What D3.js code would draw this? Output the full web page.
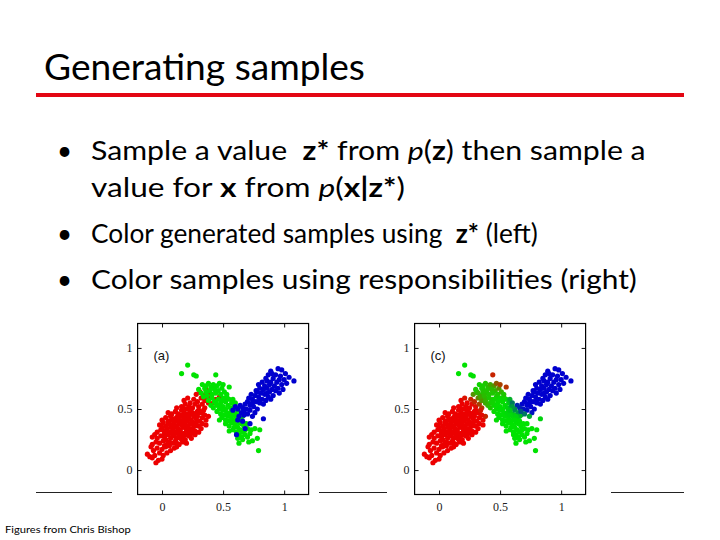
<!DOCTYPE html>
<html>
<head>
<meta charset="utf-8">
<script src="https://cdn.jsdelivr.net/npm/d3@7/dist/d3.min.js"></script>
<style>
  html, body { margin: 0; padding: 0; background: #fff; }
  svg { display: block; }
  text { white-space: pre; }
</style>
</head>
<body>
<svg id="slide" width="720" height="540"></svg>
<script>
// ---------------- DATA ----------------
const titleText = "Generating samples";
const footnoteText = "Figures from Chris Bishop";
// bullet lines: segments [text, style]  (n = normal, b = bold, i = italic)
const bulletLines = [
  [["Sample a value  ", "n"], ["z*", "b"], [" from ", "n"], ["p", "i"], ["(", "n"], ["z", "b"], [") then sample a", "n"]],
  [["value for ", "n"], ["x", "b"], [" from ", "n"], ["p", "i"], ["(", "n"], ["x", "b"], ["|", "b"], ["z*", "b"], [")", "n"]],
  [["Color generated samples using  ", "n"], ["z*", "b"], [" (left)", "n"]],
  [["Color samples using responsibilities (right)", "n"]]
];
const bulletFlags = [true, false, true, true];
const panelLabels = ["(a)", "(c)"];
const xTicks = [0, 0.5, 1];
const yTicks = [0, 0.5, 1];
const xDomain = [-0.2, 1.2];
const yDomain = [-0.2, 1.2];

// samples, colored by generating component z*
const redPts = [
  [-0.05,0.06],[-0.03,0.08],[-0.08,0.10],[0.00,0.09],
  [-0.12,0.13],[-0.10,0.11],[-0.06,0.12],[0.01,0.12],[-0.02,0.14],[0.04,0.14],
  [-0.07,0.16],[-0.04,0.18],[0.00,0.17],[0.03,0.19],[0.07,0.16],[0.10,0.18],[-0.09,0.19],[0.12,0.19],
  [-0.08,0.21],[-0.05,0.23],[-0.02,0.22],[0.01,0.24],[0.04,0.21],[0.06,0.23],[0.09,0.22],[0.11,0.24],[0.14,0.21],[0.17,0.23],[0.20,0.22],[0.02,0.20],
  [-0.08,0.27],[-0.04,0.26],[-0.01,0.28],[0.02,0.27],[0.05,0.29],[0.07,0.26],[0.10,0.28],[0.12,0.26],[0.15,0.29],[0.17,0.27],[0.19,0.25],[0.22,0.28],[0.24,0.26],[0.27,0.29],[0.03,0.25],[0.13,0.30],[0.08,0.30],
  [-0.04,0.31],[-0.01,0.33],[0.02,0.32],[0.04,0.34],[0.06,0.31],[0.09,0.33],[0.11,0.31],[0.13,0.34],[0.15,0.32],[0.18,0.30],[0.20,0.33],[0.22,0.31],[0.25,0.34],[0.27,0.32],[0.30,0.31],[0.32,0.34],[0.07,0.35],[0.17,0.35],[0.24,0.30],[0.00,0.35],
  [-0.02,0.37],[0.01,0.39],[0.03,0.36],[0.05,0.38],[0.08,0.37],[0.10,0.39],[0.12,0.36],[0.14,0.38],[0.16,0.37],[0.19,0.39],[0.21,0.36],[0.23,0.38],[0.26,0.37],[0.28,0.39],[0.30,0.36],[0.33,0.38],[0.36,0.37],[0.18,0.355],[0.11,0.40],
  [0.00,0.41],[0.03,0.43],[0.05,0.40],[0.07,0.44],[0.09,0.42],[0.12,0.43],[0.14,0.41],[0.16,0.44],[0.18,0.42],[0.20,0.40],[0.22,0.43],[0.24,0.41],[0.26,0.44],[0.28,0.42],[0.31,0.40],[0.33,0.43],[0.36,0.41],[0.38,0.44],[0.15,0.45],
  [0.05,0.47],[0.08,0.46],[0.11,0.48],[0.13,0.46],[0.16,0.49],[0.18,0.47],[0.21,0.46],[0.23,0.49],[0.25,0.47],[0.28,0.46],[0.30,0.49],[0.33,0.47],[0.35,0.45],[0.20,0.50],
  [0.12,0.51],[0.16,0.52],[0.19,0.54],[0.22,0.52],[0.25,0.51],[0.27,0.54],[0.30,0.52],[0.33,0.54],[0.35,0.51],
  [0.18,0.57],[0.21,0.59],[0.26,0.58],[0.29,0.56],[0.32,0.59],[0.35,0.57],[0.38,0.55],
  [0.28,0.62],[0.31,0.64],[0.34,0.61],[0.36,0.66],[0.39,0.63],[0.41,0.68],
  [0.44,0.58],[0.47,0.60],[0.50,0.57],[0.53,0.59],[0.42,0.55],[0.38,0.59],
  [0.04,0.33],[0.10,0.35],[0.14,0.33],[0.19,0.36],[0.23,0.34],[0.27,0.36],[0.06,0.40],[0.11,0.42],[0.17,0.40],[0.21,0.42],
  [0.25,0.39],[0.29,0.44],[0.09,0.28],[0.14,0.27],[0.20,0.29],[0.26,0.31],[0.13,0.44],[0.19,0.45],[0.24,0.46],[0.29,0.48],
  [0.17,0.51],[0.23,0.55],[0.31,0.47],[0.34,0.49],[0.08,0.41],[0.02,0.30],[-0.06,0.29],[0.16,0.25],[0.12,0.22],[0.06,0.20]
];
const greenPts = [
  [0.21,0.86],[0.16,0.79],[0.26,0.78],[0.28,0.77],[0.44,0.78],[0.55,0.68],[0.79,0.16],
  [0.30,0.66],[0.33,0.70],[0.35,0.67],[0.38,0.71],[0.40,0.68],[0.42,0.70],[0.45,0.69],[0.47,0.71],[0.32,0.63],[0.36,0.64],
  [0.39,0.65],[0.43,0.66],[0.46,0.65],[0.49,0.67],[0.34,0.60],[0.37,0.61],[0.41,0.62],[0.44,0.63],[0.48,0.62],[0.51,0.64],
  [0.38,0.57],[0.41,0.59],[0.43,0.56],[0.46,0.58],[0.48,0.55],[0.50,0.59],[0.52,0.56],[0.55,0.58],[0.57,0.55],[0.40,0.53],
  [0.42,0.51],[0.45,0.53],[0.47,0.50],[0.50,0.52],[0.52,0.50],[0.54,0.53],[0.56,0.51],[0.59,0.52],[0.44,0.55],[0.49,0.57],[0.53,0.60],
  [0.45,0.48],[0.48,0.46],[0.50,0.49],[0.53,0.47],[0.55,0.45],[0.57,0.48],[0.60,0.46],[0.62,0.49],[0.49,0.43],[0.52,0.41],
  [0.54,0.44],[0.57,0.42],[0.59,0.40],[0.61,0.43],[0.64,0.41],[0.66,0.44],[0.47,0.41],[0.51,0.45],[0.56,0.47],[0.63,0.45],[0.58,0.45],
  [0.52,0.38],[0.55,0.36],[0.57,0.39],[0.60,0.37],[0.62,0.35],[0.65,0.38],[0.67,0.36],[0.70,0.34],[0.58,0.33],[0.61,0.31],
  [0.64,0.33],[0.66,0.31],[0.69,0.38],[0.73,0.33],[0.76,0.34],[0.80,0.33],[0.55,0.32],[0.63,0.39],[0.68,0.33],
  [0.63,0.29],[0.65,0.27],[0.68,0.29],[0.71,0.23],[0.74,0.24],[0.78,0.26],[0.63,0.22],[0.70,0.27],[0.66,0.25],
  [0.36,0.69],[0.50,0.70],[0.53,0.62],[0.58,0.58],[0.60,0.55],[0.47,0.53],[0.55,0.40],[0.59,0.35],[0.72,0.30],[0.62,0.26]
];
const bluePts = [
  [0.89,0.81],[0.95,0.83],[0.98,0.82],[1.04,0.76],[1.08,0.73],[1.00,0.74],[0.93,0.78],[0.97,0.77],[0.91,0.75],[0.87,0.78],
  [0.86,0.73],[0.89,0.72],[0.94,0.72],[0.98,0.70],[1.02,0.71],[0.92,0.69],[0.95,0.67],[0.90,0.66],[0.96,0.63],[0.99,0.66],
  [0.79,0.70],[0.82,0.72],[0.84,0.69],[0.80,0.67],[0.83,0.66],[0.86,0.67],[0.88,0.64],[0.81,0.63],[0.84,0.62],[0.87,0.60],
  [0.78,0.64],[0.76,0.61],[0.79,0.60],[0.82,0.58],[0.85,0.57],[0.74,0.58],[0.77,0.56],[0.80,0.55],[0.73,0.62],[0.91,0.61],[0.89,0.58],[0.83,0.54],
  [0.70,0.56],[0.72,0.53],[0.75,0.52],[0.68,0.54],[0.66,0.51],[0.69,0.50],[0.72,0.49],[0.64,0.53],[0.62,0.50],[0.65,0.47],
  [0.60,0.52],[0.67,0.45],[0.63,0.44],[0.70,0.46],[0.76,0.47],[0.78,0.50],[0.74,0.44],[0.58,0.49],
  [0.83,0.42],[0.61,0.29],[0.68,0.34],[0.66,0.40],[0.72,0.38],[0.62,0.41],
  [0.85,0.75],[0.88,0.70],[0.93,0.65],[0.86,0.63],[0.80,0.58],[0.77,0.65],[0.71,0.59],[0.74,0.55],[0.67,0.48],[0.90,0.79],[1.01,0.79],[0.96,0.74]
];

// mixture model used for the responsibilities panel
const mixWeights = [0.45, 0.33, 0.22];
const mixMeans = [[0.17, 0.37], [0.52, 0.48], [0.82, 0.62]];
const mixCovs = [
  [[0.0124, 0.0080], [0.0080, 0.0108]],
  [[0.0108, -0.0073], [-0.0073, 0.0082]],
  [[0.0110, 0.0057], [0.0057, 0.0050]]
];
const compRGB = [[236, 0, 0], [0, 226, 0], [0, 0, 206]];

// ---------------- DRAW ----------------
const svg = d3.select("#slide");
svg.append("rect").attr("width", 720).attr("height", 540).attr("fill", "#fff");

function fitText(sel, targetW) {
  const w = sel.node().getComputedTextLength();
  return targetW / w;
}

// title
const title = svg.append("text")
  .attr("font-family", "Lato, 'Open Sans', sans-serif")
  .attr("font-size", 36).attr("fill", "#000")
  .text(titleText);
const ts = fitText(title, 321);
title.attr("transform", `translate(44,80) scale(${ts},1)`);

svg.append("rect").attr("x", 36).attr("y", 93).attr("width", 648).attr("height", 4).attr("fill", "#e30613");

// bullets
const lineY = [160, 197, 243, 289];
const lineW = [555, 314, 447, 546];
bulletLines.forEach((segs, i) => {
  if (bulletFlags[i]) {
    svg.append("text").attr("x", 57).attr("y", lineY[i])
      .attr("font-family", "Lato, sans-serif").attr("font-size", 26).attr("fill", "#000")
      .text("\u2022");
  }
  const t = svg.append("text")
    .attr("font-family", "Lato, sans-serif").attr("font-size", 26).attr("fill", "#000");
  segs.forEach(([s, st]) => {
    t.append("tspan")
      .attr("font-weight", st === "b" ? "bold" : "normal")
      .attr("font-style", st === "i" ? "italic" : "normal")
      .text(s);
  });
  const sc = fitText(t, lineW[i]);
  t.attr("transform", `translate(91,${lineY[i]}) scale(${sc},1)`);
});

// thin horizontal rule behind the figures
svg.append("line").attr("x1", 36).attr("x2", 684).attr("y1", 492.5).attr("y2", 492.5)
  .attr("stroke", "#222").attr("stroke-width", 1);

// responsibilities
function gauss(p, m, c) {
  const dx = p[0] - m[0], dy = p[1] - m[1];
  const det = c[0][0] * c[1][1] - c[0][1] * c[1][0];
  const i00 = c[1][1] / det, i11 = c[0][0] / det, i01 = -c[0][1] / det;
  const q = dx * dx * i00 + 2 * dx * dy * i01 + dy * dy * i11;
  return Math.exp(-0.5 * q) / (2 * Math.PI * Math.sqrt(det));
}
function respColor(p) {
  const l = mixWeights.map((w, k) => w * gauss(p, mixMeans[k], mixCovs[k]));
  const s = d3.sum(l) || 1;
  const r = l.map(v => v / s);
  const c = [0, 1, 2].map(ch => Math.round(d3.sum(r.map((rk, k) => rk * compRGB[k][ch]))));
  return `rgb(${c[0]},${c[1]},${c[2]})`;
}

const samples = [
  ...redPts.map(p => ({ p, k: 0 })),
  ...greenPts.map(p => ({ p, k: 1 })),
  ...bluePts.map(p => ({ p, k: 2 }))
];
const labelColor = k => `rgb(${compRGB[k].join(",")})`;

function drawPanel(x0, imgX, imgW, label, colorOf) {
  // image background (covers the rule)
  svg.append("rect").attr("x", imgX).attr("y", 312).attr("width", imgW).attr("height", 210).attr("fill", "#fff");
  const x = d3.scaleLinear().domain(xDomain).range([x0, x0 + 171]);
  const y = d3.scaleLinear().domain(yDomain).range([494.5, 323.5]);
  const g = svg.append("g");
  const fmt = d => String(d);
  const styleAxis = a => {
    a.select(".domain").remove();
    a.selectAll("line").attr("stroke", "#111");
    a.selectAll("text").attr("font-family", "'Liberation Serif', 'DejaVu Serif', serif")
      .attr("font-size", 12).attr("fill", "#222");
  };
  g.append("g").attr("transform", `translate(0,${y(yDomain[0])})`)
    .call(d3.axisBottom(x).tickValues(xTicks).tickSize(-4).tickPadding(8).tickFormat(fmt)).call(styleAxis);
  g.append("g").attr("transform", `translate(0,${y(yDomain[1])})`)
    .call(d3.axisTop(x).tickValues(xTicks).tickSize(-4).tickFormat("")).call(styleAxis);
  g.append("g").attr("transform", `translate(${x(xDomain[0])},0)`)
    .call(d3.axisLeft(y).tickValues(yTicks).tickSize(-4).tickPadding(5).tickFormat(fmt)).call(styleAxis);
  g.append("g").attr("transform", `translate(${x(xDomain[1])},0)`)
    .call(d3.axisRight(y).tickValues(yTicks).tickSize(-4).tickFormat("")).call(styleAxis);

  g.append("g").selectAll("circle").data(samples).join("circle")
    .attr("cx", d => x(d.p[0])).attr("cy", d => y(d.p[1])).attr("r", 2.6)
    .attr("fill", d => colorOf(d));

  g.append("rect").attr("x", x(xDomain[0])).attr("y", y(yDomain[1]))
    .attr("width", x(xDomain[1]) - x(xDomain[0])).attr("height", y(yDomain[0]) - y(yDomain[1]))
    .attr("fill", "none").attr("stroke", "#000").attr("stroke-width", 1.2);

  g.append("text").attr("x", x(-0.07)).attr("y", y(0.9))
    .attr("font-family", "'Liberation Sans', Arial, sans-serif").attr("font-size", 13).attr("fill", "#111")
    .text(label);
}

drawPanel(137.6, 112, 207, panelLabels[0], d => labelColor(d.k));
drawPanel(414.6, 387, 224, panelLabels[1], d => respColor(d.p));

// footnote
const fn = svg.append("text").attr("font-family", "Lato, sans-serif").attr("font-size", 10).attr("fill", "#000")
  .text(footnoteText);
const fs = fitText(fn, 126);
fn.attr("transform", `translate(5,533) scale(${fs},1)`);
</script>
</body>
</html>
